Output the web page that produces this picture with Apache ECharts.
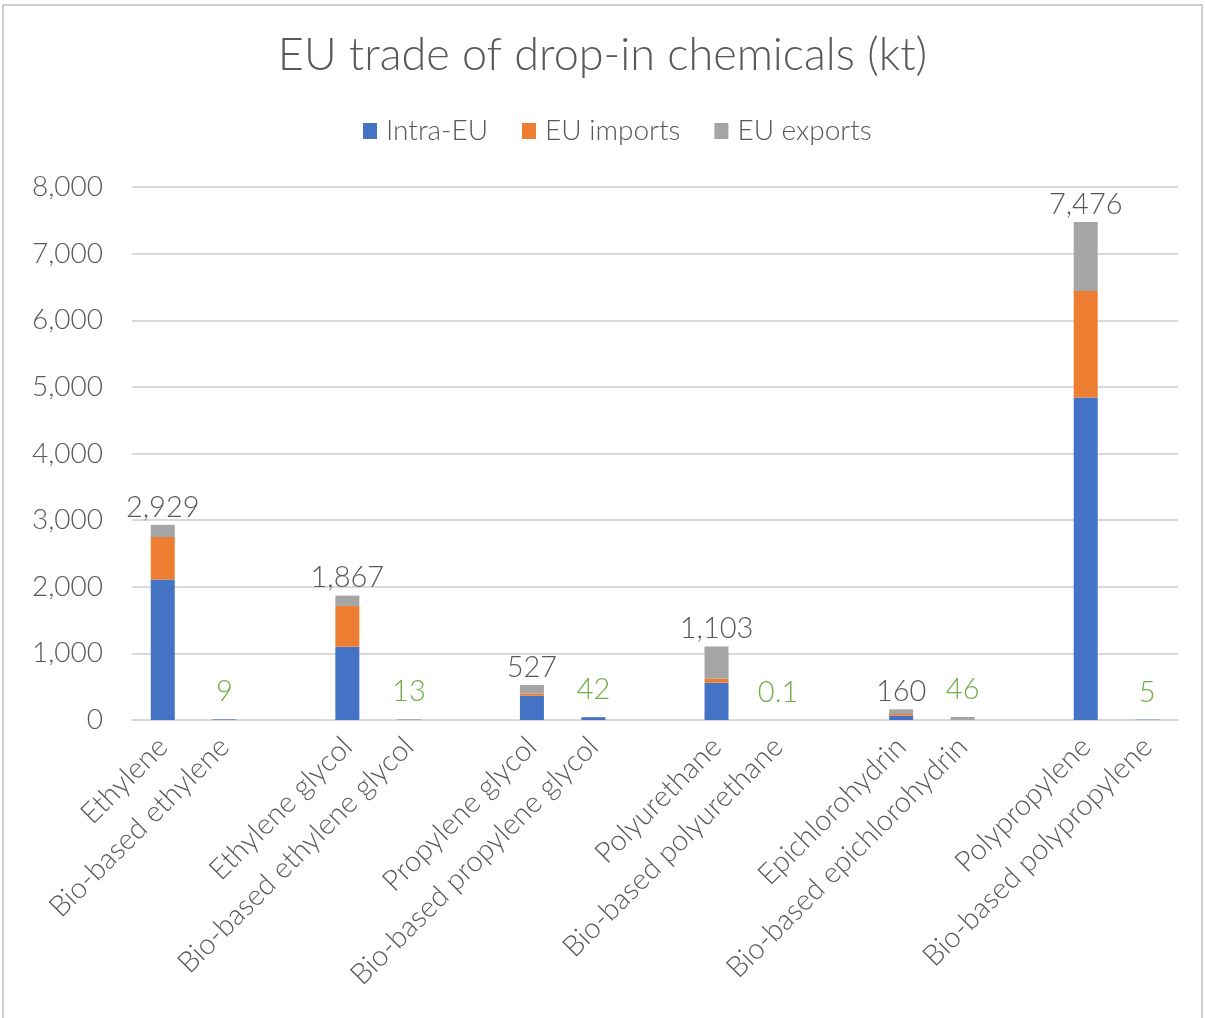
<!DOCTYPE html>
<html>
<head>
<meta charset="utf-8">
<script src="https://cdn.jsdelivr.net/npm/echarts@6/dist/echarts.min.js"></script>
<style>
html,body{margin:0;padding:0;background:#fff;}
#chart{width:1205px;height:1018px;}
</style>
</head>
<body>
<div id="chart"></div>
<script>
// Categories (blank entries are the gaps between product pairs)
const categories = ['Ethylene','Bio-based ethylene','','Ethylene glycol','Bio-based ethylene glycol','','Propylene glycol','Bio-based propylene glycol','','Polyurethane','Bio-based polyurethane','','Epichlorohydrin','Bio-based epichlorohydrin','','Polypropylene','Bio-based polypropylene'];
const intraEU   = [2110, 9,    null, 1100, 0,  null, 365, 42, null, 560, 0.1, null, 65, 0,  null, 4840, 5];
const euImports = [635,  0,    null, 610,  0,  null, 35,  0,  null, 60,  0,   null, 25, 0,  null, 1600, 0];
const euExports = [184,  0,    null, 157,  13, null, 127, 0,  null, 483, 0,   null, 70, 46, null, 1036, 0];
const bioBased  = [false, true, false, false, true, false, false, true, false, false, true, false, false, true, false, false, true];
const yTicks = [0,1000,2000,3000,4000,5000,6000,7000,8000];

const FONT = 'Lato';
const GREY_TXT = '#595959';

const totals = categories.map((c, i) => {
  if (intraEU[i] === null) return null;
  const t = Math.round((intraEU[i] + euImports[i] + euExports[i]) * 10) / 10;
  return {
    value: t,
    label: bioBased[i]
      ? { color: '#70AD47', distance: 13 }
      : { color: GREY_TXT, distance: 3 }
  };
});

const chart = echarts.init(document.getElementById('chart'), null, {renderer: 'canvas'});
const common = { type: 'bar', stack: 'trade', barWidth: 24, barGap: '-100%' };
chart.setOption({
  animation: false,
  textStyle: { fontFamily: FONT },
  title: {
    text: 'EU trade of drop-in chemicals (kt)',
    left: 'center', top: 28,
    textStyle: { fontFamily: FONT, fontSize: 45, fontWeight: 300, color: GREY_TXT }
  },
  legend: {
    data: ['Intra-EU','EU imports','EU exports'],
    top: 112, left: 358,
    itemWidth: 14, itemHeight: 16, itemGap: 34,
    icon: 'rect',
    textStyle: { fontFamily: FONT, fontSize: 28, fontWeight: 300, color: GREY_TXT, padding: [0,0,0,4] }
  },
  graphic: [{
    type: 'rect', silent: true,
    shape: { x: 3, y: 5, width: 1199, height: 1030 },
    style: { fill: 'none', stroke: '#bfbfbf', lineWidth: 1.5 }
  }],
  grid: { left: 132, right: 27, top: 187, bottom: 298, containLabel: false },
  xAxis: {
    type: 'category',
    data: categories,
    axisLine: { lineStyle: { color: '#d9d9d9', width: 2 } },
    axisTick: { show: false },
    axisLabel: {
      interval: 0, rotate: 45, margin: 22,
      fontFamily: FONT, fontSize: 29, fontWeight: 300, color: GREY_TXT
    }
  },
  yAxis: {
    type: 'value',
    min: yTicks[0], max: yTicks[yTicks.length - 1], interval: 1000,
    axisLine: { show: false },
    axisTick: { show: false },
    splitLine: { lineStyle: { color: '#d9d9d9', width: 2 } },
    axisLabel: {
      margin: 29,
      fontFamily: FONT, fontSize: 28, fontWeight: 300, color: GREY_TXT,
      formatter: v => v.toLocaleString('en-US')
    }
  },
  series: [
    Object.assign({ name: 'Intra-EU', data: intraEU, itemStyle: { color: '#4472C4' } }, common),
    Object.assign({ name: 'EU imports', data: euImports, itemStyle: { color: '#ED7D31' } }, common),
    Object.assign({ name: 'EU exports', data: euExports, itemStyle: { color: '#A5A5A5' } }, common),
    {
      name: 'Total', type: 'bar', barWidth: 24, barGap: '-100%', silent: true,
      data: totals,
      itemStyle: { color: 'rgba(0,0,0,0)' },
      label: {
        show: true, position: 'top',
        fontFamily: FONT, fontSize: 29, fontWeight: 300,
        formatter: p => p.value.toLocaleString('en-US')
      },
      z: 1
    }
  ]
});
</script>
</body>
</html>
